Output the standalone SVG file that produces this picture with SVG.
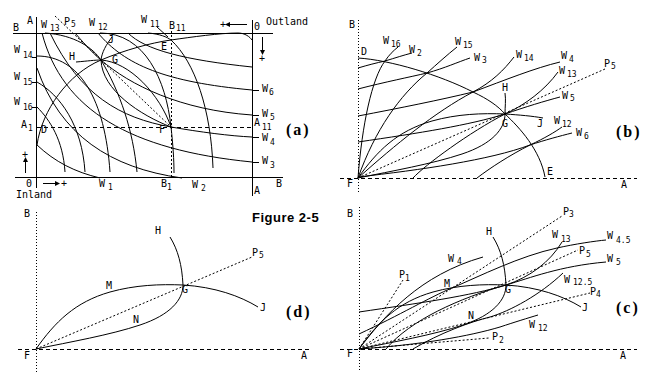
<svg xmlns="http://www.w3.org/2000/svg" width="662" height="374" viewBox="0 0 662 374">
<style>
.l{fill:none;stroke:#000;stroke-width:1}
.da{stroke-dasharray:4,3}
.dt{stroke-dasharray:1,2}
.dr{stroke-dasharray:2,2}
text{font-family:"DejaVu Sans Mono","Liberation Mono",monospace;font-size:10px;fill:#000}
.s{font-size:8px}
.big{font-family:"Liberation Serif",serif;font-weight:bold;font-size:16px;letter-spacing:2px}
.fig{font-family:"Liberation Sans",Arial,sans-serif;font-weight:bold;font-size:13px;letter-spacing:0.5px}
</style>
<rect width="662" height="374" fill="#fff"/>

<g id="panel-a">
  <path class="l" d="M13,33.5H273M36.5,17V188M252.5,20V196M15,177.5H283"/>
  <path class="l da" d="M37,127.5H252"/>
  <path class="l dr" d="M171.5,31V178"/>
  <path class="l dr" d="M55,16L171,127"/>
  <path class="l" d="M32,57.5H37M32,82.5H37M32,107.5H37M252,90.5H259M252,115.5H259M252,137.5H259M252,162.5H259M157,27L168,37"/>
  <path class="l" d="M148,33 C160,34 167,37 171,40 C195,62 211,110 213,168"/>
  <path class="l" d="M100,33 C145,33 166,80 171,127 C173,145 174,160 174,173"/>
  <path class="l" d="M45,33 C75,35 93,48 101,60 C120,92 133,130 137,172"/>
  <path class="l" d="M37,56 C80,56 105,100 110,172"/>
  <path class="l" d="M37,82 C60,95 82,125 85,172"/>
  <path class="l" d="M37,107 C50,120 63,140 65,172"/>
  <path class="l" d="M98,33 C125,65 165,82 252,90"/>
  <path class="l" d="M75,33 C88,48 95,55 101,60 C130,85 180,110 252,115"/>
  <path class="l" d="M50,33 C80,95 120,118 171,127 C200,132 230,136 252,137"/>
  <path class="l" d="M42,33 C62,110 130,150 252,162"/>
  <path class="l" d="M37,68 C60,135 110,168 182,178"/>
  <path class="l" d="M37,145 C55,162 75,172 100,178"/>
  <path class="l" d="M128,33 C145,50 185,60 252,67"/>
  <path class="l" d="M37,145 C42,110 68,74 101,60 C125,50 150,43 171,40 C192,37 220,33 238,33 C245,33 250,37 252,40"/>
  <path class="l" d="M76,62 C88,61 95,60 101,60 C130,62 160,95 171,127"/>
  <path class="l" d="M112,37 C106,45 102,52 101,60 C102,90 140,115 171,127"/>
  <path class="l" d="M247,24.5H229M262.5,37V51M25.5,173V161M43,183.5H56"/>
  <polygon points="225,24.5 230,22 230,27"/>
  <polygon points="262.5,55 260,50 265,50"/>
  <polygon points="25.5,157 23,162 28,162"/>
  <polygon points="60,183.5 55,181 55,186"/>
  <text x="27" y="24">A</text><text x="13" y="31">B</text>
  <text x="41" y="28">W</text><text class="s" x="50" y="31">13</text>
  <text x="64" y="25">P</text><text class="s" x="71" y="27">5</text>
  <text x="89" y="26">W</text><text class="s" x="98" y="30">12</text>
  <text x="141" y="23">W</text><text class="s" x="150" y="27">11</text>
  <text x="169" y="29">B</text><text class="s" x="176" y="31">11</text>
  <text x="220" y="28">+</text>
  <text x="254" y="30">0</text><text x="266" y="25">Outland</text>
  <text x="259" y="62">+</text>
  <text x="108" y="43">J</text><text x="161" y="50">E</text>
  <text x="14" y="53">W</text><text class="s" x="23" y="58">14</text>
  <text x="69" y="60">H</text><text x="112" y="63">G</text>
  <text x="14" y="80">W</text><text class="s" x="23" y="85">15</text>
  <text x="14" y="105">W</text><text class="s" x="23" y="110">16</text>
  <text x="21" y="128">A</text><text class="s" x="28" y="131">1</text>
  <text x="41" y="133">D</text><text x="159" y="133">F</text>
  <text x="262" y="92">W</text><text class="s" x="269" y="95">6</text>
  <text x="262" y="117">W</text><text class="s" x="270" y="120">5</text>
  <text x="254" y="126">A</text><text class="s" x="262" y="130">11</text>
  <text x="262" y="141">W</text><text class="s" x="270" y="145">4</text>
  <text x="262" y="164">W</text><text class="s" x="270" y="168">3</text>
  <text x="22" y="158">+</text>
  <text x="26" y="187">0</text><text x="61" y="187">+</text>
  <text x="16" y="198">Inland</text>
  <text x="99" y="187">W</text><text class="s" x="108" y="190">1</text>
  <text x="161" y="187">B</text><text class="s" x="167" y="190">1</text>
  <text x="192" y="188">W</text><text class="s" x="201" y="191">2</text>
  <text x="276" y="187">B</text><text x="254" y="194">A</text>
  <text class="big" x="286" y="135">(a)</text>
</g>

<g id="panel-b">
  <path class="l dt" d="M358.5,20V193"/>
  <path class="l da" d="M340,178.5H637"/>
  <path class="l dr" d="M358,178L605,69"/>
  <path class="l" d="M358,58 C390,60 440,75 473,92 C488,99 498,106 505,114 C520,128 540,150 545,177"/>
  <path class="l" d="M505,93 C506,100 505,107 505,114 C505,129 492,144 462,154 C432,164 392,171 358,178"/>
  <path class="l" d="M358,178 C377,151 397,131 432,121 C457,114 482,113 505,114 C520,115 532,116 543,118"/>
  <path class="l" d="M358,68 C368,65 376,63 385,61 C395,58 404,55 412,53"/>
  <path class="l" d="M358,89 C385,82 410,77 427,73 C445,68 458,62 470,58"/>
  <path class="l" d="M358,116 C400,108 440,100 473,92 C505,80 535,68 560,62"/>
  <path class="l" d="M358,142 C420,133 470,125 505,114 C525,107 545,101 560,97"/>
  <path class="l" d="M358,177 C420,170 490,160 530,145 C545,140 560,136 572,133"/>
  <path class="l" d="M358,178 C362,125 372,78 385,61 C389,55 393,51 398,47"/>
  <path class="l" d="M358,178 C375,130 400,95 427,73 C437,64 447,55 457,47"/>
  <path class="l" d="M358,178 C395,145 435,112 473,92 C492,82 504,70 514,57"/>
  <path class="l" d="M413,178 C425,165 470,132 505,114 C525,105 545,90 558,72"/>
  <path class="l" d="M477,178 C490,168 510,155 530,145 C545,138 555,132 562,127"/>
  <text x="349" y="28">B</text><text x="361" y="55">D</text>
  <text x="383" y="44">W</text><text class="s" x="391" y="47">16</text>
  <text x="409" y="53">W</text><text class="s" x="417" y="56">2</text>
  <text x="455" y="45">W</text><text class="s" x="463" y="48">15</text>
  <text x="474" y="61">W</text><text class="s" x="482" y="63">3</text>
  <text x="516" y="58">W</text><text class="s" x="524" y="61">14</text>
  <text x="561" y="59">W</text><text class="s" x="569" y="62">4</text>
  <text x="604" y="67">P</text><text class="s" x="611" y="69">5</text>
  <text x="559" y="74">W</text><text class="s" x="567" y="77">13</text>
  <text x="502" y="91">H</text>
  <text x="562" y="99">W</text><text class="s" x="570" y="101">5</text>
  <text x="502" y="127">G</text><text x="537" y="127">J</text>
  <text x="554" y="124">W</text><text class="s" x="562" y="127">12</text>
  <text x="576" y="136">W</text><text class="s" x="584" y="139">6</text>
  <text x="547" y="175">E</text><text x="347" y="187">F</text><text x="621" y="188">A</text>
  <text class="big" x="616" y="137">(b)</text>
</g>

<g id="panel-d">
  <path class="l dt" d="M36.5,212V372"/>
  <path class="l da" d="M18,349.5H312"/>
  <path class="l dr" d="M36,349L252,257"/>
  <path class="l" d="M170,237 C178,250 182,265 183,285 C183,300 170,315 140,325 C110,335 70,342 36,349"/>
  <path class="l" d="M36,349 C55,322 75,302 110,292 C135,285 160,284 183,285 C215,287 240,296 258,307"/>
  <text x="24" y="217">B</text><text x="155" y="234">H</text>
  <text x="252" y="256">P</text><text class="s" x="259" y="258">5</text>
  <text x="106" y="289">M</text><text x="182" y="293">G</text>
  <text x="260" y="311">J</text><text x="133" y="323">N</text>
  <text x="24" y="359">F</text><text x="301" y="359">A</text>
  <text class="big" x="286" y="317">(d)</text>
  <text class="fig" x="252" y="222">Figure 2-5</text>
</g>

<g id="panel-c">
  <path class="l dt" d="M359.5,207V372"/>
  <path class="l da" d="M340,349.5H637"/>
  <path class="l dr" d="M359,349L403,280M359,349L489,338M359,349L562,216M359,349L590,293M359,349L578,250"/>
  <path class="l" d="M493,237 C501,250 505,265 506,285 C506,300 493,315 463,325 C433,335 393,342 359,349"/>
  <path class="l" d="M359,349 C378,322 398,302 433,292 C458,285 483,284 506,285 C538,287 563,296 581,307"/>
  <path class="l" d="M359,349 C385,315 420,275 483,257"/>
  <path class="l" d="M386,349 C410,320 460,298 506,285 C530,277 550,262 562,242"/>
  <path class="l" d="M359,312 C420,303 470,296 506,285 C530,278 560,266 606,262"/>
  <path class="l" d="M359,334 C400,315 430,297 452,288 C480,276 520,256 557,248 C575,244 595,241 606,240"/>
  <path class="l" d="M413,349 C440,333 470,322 490,317 C510,311 540,295 563,273"/>
  <path class="l" d="M359,349 C420,345 470,336 500,327 C515,322 528,318 538,315"/>
  <text x="347" y="217">B</text><text x="486" y="235">H</text>
  <text x="448" y="262">W</text><text class="s" x="457" y="264">4</text>
  <text x="399" y="278">P</text><text class="s" x="405" y="281">1</text>
  <text x="444" y="287">M</text><text x="468" y="319">N</text>
  <text x="492" y="340">P</text><text class="s" x="499" y="343">2</text>
  <text x="347" y="357">F</text>
  <text x="563" y="215">P</text><text class="s" x="569" y="217">3</text>
  <text x="552" y="238">W</text><text class="s" x="561" y="242">13</text>
  <text x="607" y="239">W</text><text class="s" x="616" y="243">4.5</text>
  <text x="579" y="254">P</text><text class="s" x="586" y="257">5</text>
  <text x="607" y="262">W</text><text class="s" x="616" y="265">5</text>
  <text x="505" y="293">G</text>
  <text x="564" y="283">W</text><text class="s" x="573" y="285">12.5</text>
  <text x="590" y="295">P</text><text class="s" x="596" y="297">4</text>
  <text x="582" y="311">J</text>
  <text x="529" y="328">W</text><text class="s" x="538" y="331">12</text>
  <text x="620" y="359">A</text>
  <text class="big" x="616" y="313">(c)</text>
</g>
</svg>
